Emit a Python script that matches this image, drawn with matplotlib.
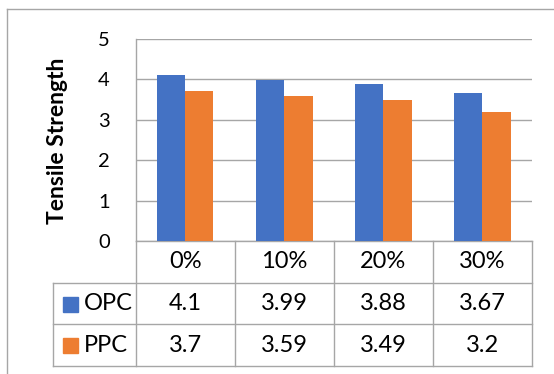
import numpy as np
import matplotlib.pyplot as plt
from matplotlib.lines import Line2D

plt.rcParams['font.family'] = ['Lato', 'DejaVu Sans']

# data
categories = ["0%", "10%", "20%", "30%"]
series = ["OPC", "PPC"]
opc = [4.1, 3.99, 3.88, 3.67]
ppc = [3.7, 3.59, 3.49, 3.2]
colors = ["#4472C4", "#ED7D31"]
grid_c = "#a6a6a6"

W, H = 554, 374
fig = plt.figure(figsize=(W / 100, H / 100), dpi=100)

def px(x0, y0, x1, y1):
    # pixel box (top-left origin) -> figure fraction rect
    return [x0 / W, 1 - y1 / H, (x1 - x0) / W, (y1 - y0) / H]

# outer chart border (left and top edges only visible)
fig.add_artist(Line2D([7.3 / W, 7.3 / W], [0, 1 - 9 / H], color=grid_c, lw=1.0))
fig.add_artist(Line2D([7.3 / W, 1], [1 - 9 / H, 1 - 9 / H], color=grid_c, lw=1.0))

# bar area
ax = fig.add_axes(px(135.7, 38.7, 532, 241))
x = np.arange(len(categories))
bw = 0.285
ax.bar(x - bw / 2, opc, bw, color=colors[0], zorder=3)
ax.bar(x + bw / 2, ppc, bw, color=colors[1], zorder=3)
ax.set_xlim(-0.5, len(categories) - 0.5)
ax.set_ylim(0, 5)
ax.set_yticks(range(6))
ax.yaxis.grid(True, color=grid_c, lw=1.0)
ax.set_axisbelow(True)
ax.set_xticks([])
for s in ["top", "right"]:
    ax.spines[s].set_visible(False)
for s in ["left", "bottom"]:
    ax.spines[s].set_color(grid_c)
    ax.spines[s].set_linewidth(1.0)
ax.tick_params(axis="y", length=0, labelsize=14.5, pad=18.5)
fig.text(58 / W, 1 - 141 / H, "Tensile Strength", rotation=90, ha="center",
         va="center", fontsize=16.5, fontweight="bold")

# data table below the bars
tx0 = -0.5 - (135.7 - 52.7) / ((532 - 135.7) / len(categories))
tab = fig.add_axes(px(52.7, 241, 532, 366))
tab.set_xlim(tx0, len(categories) - 0.5)
tab.set_ylim(3, 0)
tab.axis("off")
kw = dict(color=grid_c, lw=1.0, clip_on=False)
for r in [1, 2, 3]:
    tab.plot([tx0, len(categories) - 0.5], [r, r], **kw)
tab.plot([tx0, tx0], [1, 3], **kw)
for c in np.arange(-0.5, len(categories), 1.0):
    tab.plot([c, c], [0, 3], **kw)

fs = 17
for i, cat in enumerate(categories):
    tab.text(i, 0.5, cat, ha="center", va="center", fontsize=fs)
for r, (name, vals, col) in enumerate(zip(series, [opc, ppc], colors)):
    y = r + 1.5
    tab.plot(tx0 + 0.17, y, "s", color=col, ms=10.8, clip_on=False)
    tab.text(tx0 + 0.316, y, name, ha="left", va="center", fontsize=fs)
    for i, v in enumerate(vals):
        tab.text(i, y, f"{v:g}", ha="center", va="center", fontsize=fs)

fig.savefig("out.png", dpi=100)
